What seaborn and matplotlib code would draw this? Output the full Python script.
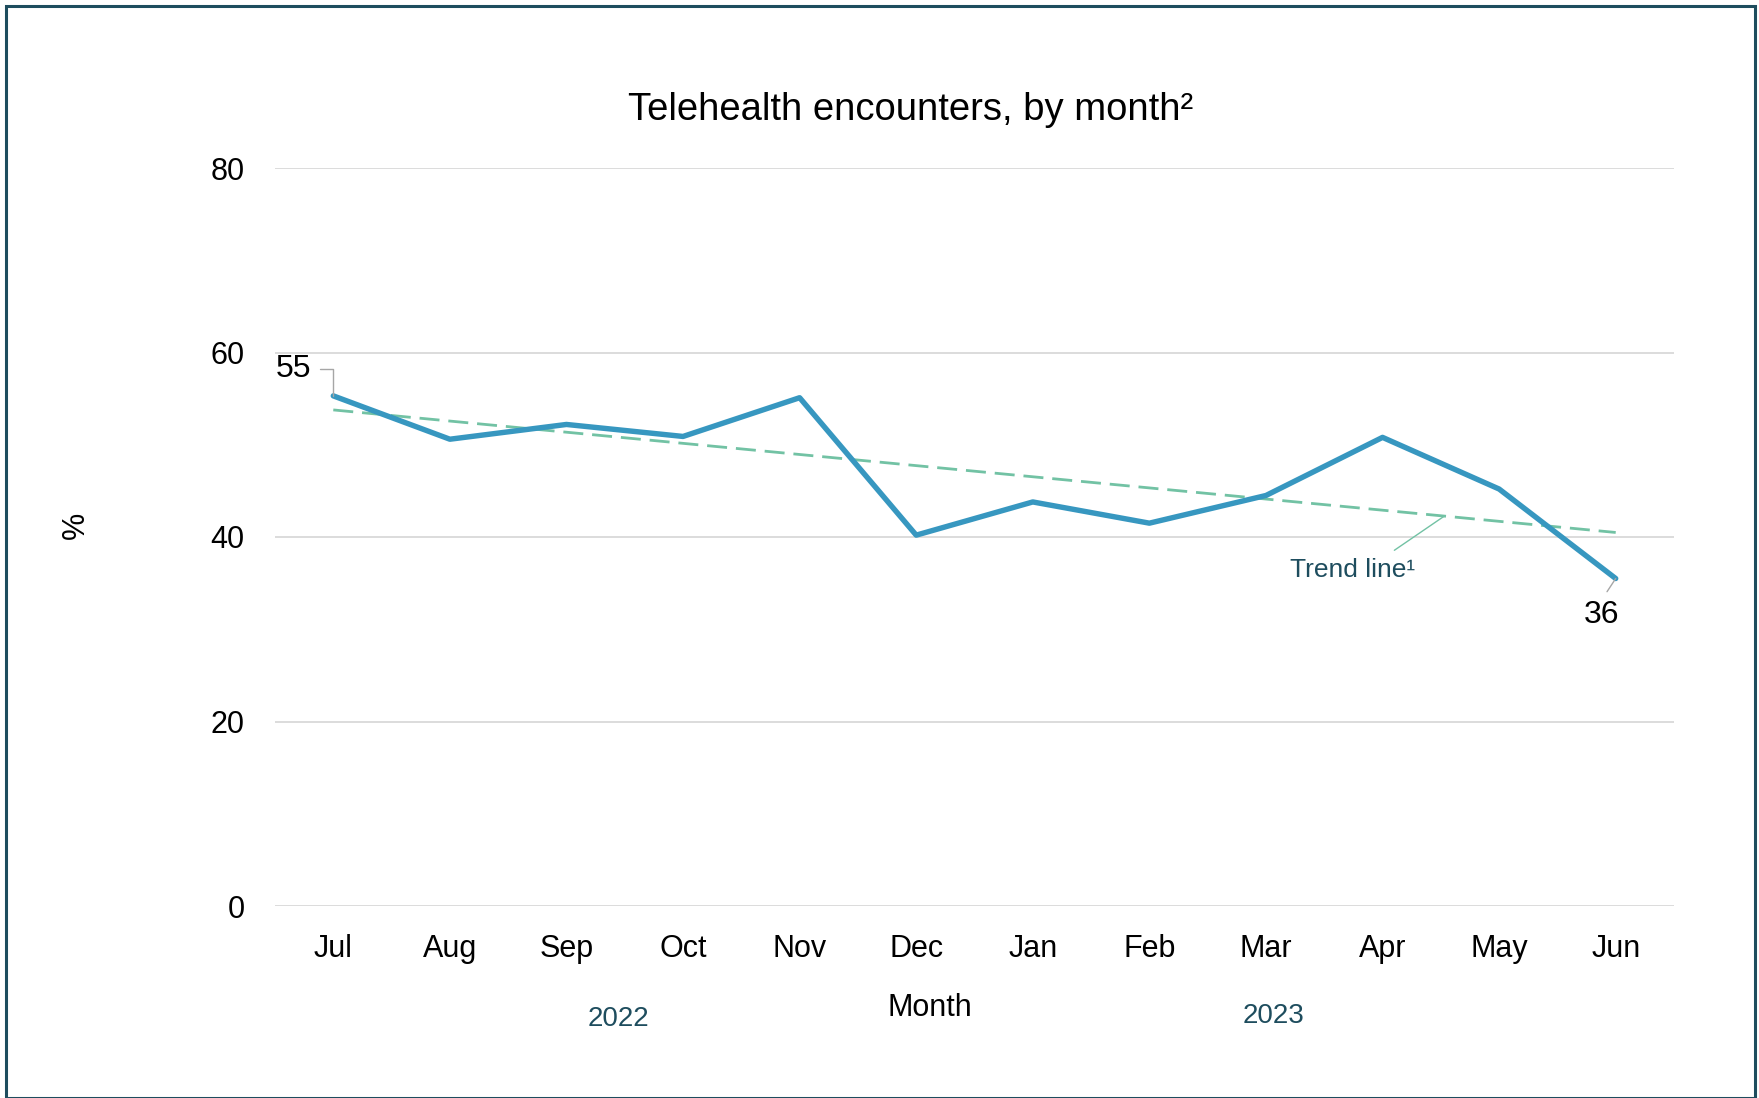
import numpy as np
import pandas as pd
import seaborn as sns
import matplotlib
matplotlib.use("Agg")
import matplotlib.pyplot as plt
from matplotlib.patches import Rectangle

# データ
months = ["Jul", "Aug", "Sep", "Oct", "Nov", "Dec", "Jan", "Feb", "Mar", "Apr", "May", "Jun"]
pct = [55.3, 50.6, 52.2, 50.9, 55.1, 40.2, 43.8, 41.5, 44.5, 50.8, 45.2, 35.5]
years = ["2022", "2023"]
yticks = [0, 20, 40, 60, 80]

LINE = "#3797c0"
TREND = "#72c2a4"
TEAL = "#1e4d5e"

sns.set_style("white")
plt.rcParams["font.family"] = ["Liberation Sans", "DejaVu Sans"]
plt.rcParams["text.color"] = "black"
plt.rcParams["xtick.color"] = "black"
plt.rcParams["ytick.color"] = "black"

df = pd.DataFrame({"pos": np.arange(len(months)), "month": months, "pct": pct})

# トレンドライン（最小二乗）
coef = np.polyfit(df["pos"], df["pct"], 1)
df["trend"] = np.polyval(coef, df["pos"])

fig = plt.figure(figsize=(17.59, 10.98), dpi=100)
ax = fig.add_axes([275 / 1759, 192 / 1098, 1399 / 1759, 738 / 1098])

sns.lineplot(data=df, x="pos", y="trend", ax=ax, color=TREND, lw=2,
             linestyle=(0, (7.2, 3.2)), zorder=2)
sns.lineplot(data=df, x="pos", y="pct", ax=ax, color=LINE, lw=3.9, zorder=3)

ax.set_xlim(-0.5, len(months) - 0.5)
ax.set_ylim(0, 80)
ax.set_yticks(yticks)
ax.set_xticks(df["pos"])
ax.set_xticklabels(months)
ax.tick_params(axis="both", length=0, labelsize=22)
ax.tick_params(axis="x", pad=20)
ax.tick_params(axis="y", pad=22)
ax.grid(axis="y", color="#d9d9d9", lw=1.3)
ax.grid(axis="x", visible=False)
for s in ax.spines.values():
    s.set_visible(False)
ax.set_xlabel("")
ax.set_ylabel("")

# 最初と最後のラベル
ax.annotate(f"{pct[0]:.0f}", xy=(0, pct[0]), xytext=(-29, 19), textcoords="offset points",
            ha="center", va="center", fontsize=23,
            arrowprops=dict(arrowstyle="-", color="#a6a6a6", lw=1,
                            connectionstyle="angle,angleA=0,angleB=90,rad=0",
                            relpos=(1.0, 0.5), shrinkA=4, shrinkB=0))
ax.annotate(f"{pct[-1]:.0f}", xy=(len(pct) - 1, pct[-1]), xytext=(-10, -26),
            textcoords="offset points", ha="center", va="center", fontsize=23,
            arrowprops=dict(arrowstyle="-", color="#a6a6a6", lw=1,
                            relpos=(0.5, 1.0), shrinkA=4, shrinkB=0))

tx = 9.53
ax.annotate("Trend line¹", xy=(tx, np.polyval(coef, tx)), xytext=(-66, -39),
            textcoords="offset points", ha="center", va="center", fontsize=19, color=TEAL,
            arrowprops=dict(arrowstyle="-", color=TREND, lw=1,
                            relpos=(0.74, 1.0), shrinkA=6, shrinkB=0))

fig.text(911 / 1759, 1 - 110 / 1098, "Telehealth encounters, by month²",
         ha="center", va="center", fontsize=27.5)
fig.text(930 / 1759, 1 - 1008 / 1098, "Month", ha="center", va="center", fontsize=22)
fig.text(618 / 1759, 1 - 1019 / 1098, years[0], ha="center", va="center", fontsize=20, color=TEAL)
fig.text(1274 / 1759, 1 - 1016 / 1098, years[1], ha="center", va="center", fontsize=20, color=TEAL)
fig.text(76 / 1759, 1 - 525 / 1098, "%", ha="center", va="center", fontsize=22, rotation=90)

fig.patches.append(Rectangle((6 / 1759, 0), 1 - 10 / 1759, 1 - 6 / 1098,
                             transform=fig.transFigure, fill=False,
                             edgecolor=TEAL, lw=2.2))

fig.savefig("out.png", dpi=100, facecolor="white")
